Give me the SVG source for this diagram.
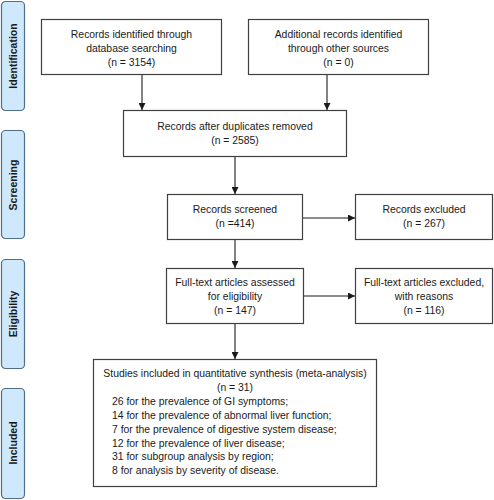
<svg xmlns="http://www.w3.org/2000/svg" width="494" height="500" viewBox="0 0 494 500">
<defs>
<style>
.box{fill:#fff;stroke:#404040;stroke-width:1.2}
.pill{fill:#cfe8fb;stroke:#4f6f88;stroke-width:1.2}
.t{font-family:"Liberation Sans",Arial,sans-serif;font-size:10.4px;fill:#1a1a1a;text-anchor:middle}
.tl{font-family:"Liberation Sans",Arial,sans-serif;font-size:10.4px;fill:#1a1a1a}
.side{font-family:"Liberation Sans",Arial,sans-serif;font-size:10.5px;font-weight:bold;fill:#1a1a1a;text-anchor:middle}
.c{stroke:#1a1a1a;stroke-width:1.1;fill:none;marker-end:url(#ah)}
</style>
<marker id="ah" viewBox="0 0 10 10" refX="10" refY="5" markerWidth="7" markerHeight="7" markerUnits="userSpaceOnUse" orient="auto">
<path d="M0,0 L10,5 L0,10 z" fill="#1a1a1a"/>
</marker>
</defs>
<rect width="494" height="500" fill="#fff"/>
<g id="phase-identification"><rect class="pill" x="1.5" y="1.5" width="23" height="109" rx="4"/><text class="side" transform="translate(16.5,56) rotate(-90)">Identification</text></g>
<g id="phase-screening"><rect class="pill" x="1.5" y="130.5" width="23" height="108" rx="4"/><text class="side" transform="translate(16.5,185) rotate(-90)">Screening</text></g>
<g id="phase-eligibility"><rect class="pill" x="1.5" y="259.5" width="23" height="109" rx="4"/><text class="side" transform="translate(16.5,314) rotate(-90)">Eligibility</text></g>
<g id="phase-included"><rect class="pill" x="1.5" y="388.5" width="23" height="110" rx="4"/><text class="side" transform="translate(16.5,443) rotate(-90)">Included</text></g>

<g id="connectors">
<line class="c" x1="142" y1="74" x2="142" y2="110"/>
<line class="c" x1="327" y1="74" x2="327" y2="110"/>
<line class="c" x1="235" y1="157" x2="235" y2="194"/>
<line class="c" x1="302" y1="218" x2="355" y2="218"/>
<line class="c" x1="235" y1="240" x2="235" y2="268"/>
<line class="c" x1="304" y1="296" x2="355" y2="296"/>
<line class="c" x1="235" y1="323" x2="235" y2="359"/>
</g>

<g id="n1"><rect class="box" x="41.5" y="19.5" width="180" height="55"/>
<text class="t" x="131.5" y="38">Records identified through</text>
<text class="t" x="131.5" y="52">database searching</text>
<text class="t" x="131.5" y="66">(n = 3154)</text></g>
<g id="n2"><rect class="box" x="248.5" y="19.5" width="180" height="55"/>
<text class="t" x="338.5" y="38">Additional records identified</text>
<text class="t" x="338.5" y="52">through other sources</text>
<text class="t" x="338.5" y="66">(n = 0)</text></g>
<g id="n3"><rect class="box" x="123.5" y="110.5" width="223" height="46"/>
<text class="t" x="235" y="130">Records after duplicates removed</text>
<text class="t" x="235" y="144">(n = 2585)</text></g>
<g id="n4"><rect class="box" x="167.5" y="194.5" width="135" height="45"/>
<text class="t" x="235" y="213">Records screened</text>
<text class="t" x="235" y="227">(n =414)</text></g>
<g id="n5"><rect class="box" x="355.5" y="194.5" width="137" height="45"/>
<text class="t" x="424" y="213">Records excluded</text>
<text class="t" x="424" y="227">(n = 267)</text></g>
<g id="n6"><rect class="box" x="166.5" y="268.5" width="137" height="55"/>
<text class="t" x="235" y="286">Full-text articles assessed</text>
<text class="t" x="235" y="300">for eligibility</text>
<text class="t" x="235" y="314">(n = 147)</text></g>
<g id="n7"><rect class="box" x="355.5" y="268.5" width="137" height="55"/>
<text class="t" x="424" y="286">Full-text articles excluded,</text>
<text class="t" x="424" y="300">with reasons</text>
<text class="t" x="424" y="314">(n = 116)</text></g>
<g id="n8"><rect class="box" x="93.5" y="359.5" width="283" height="127"/>
<text class="t" x="235" y="377">Studies included in quantitative synthesis (meta-analysis)</text>
<text class="t" x="235" y="391">(n = 31)</text>
<text class="tl" x="112" y="405">26 for the prevalence of GI symptoms;</text>
<text class="tl" x="112" y="418.5">14 for the prevalence of abnormal liver function;</text>
<text class="tl" x="112" y="432.5">7 for the prevalence of digestive system disease;</text>
<text class="tl" x="112" y="446.5">12 for the prevalence of liver disease;</text>
<text class="tl" x="112" y="460">31 for subgroup analysis by region;</text>
<text class="tl" x="112" y="474">8 for analysis by severity of disease.</text></g>
</svg>
